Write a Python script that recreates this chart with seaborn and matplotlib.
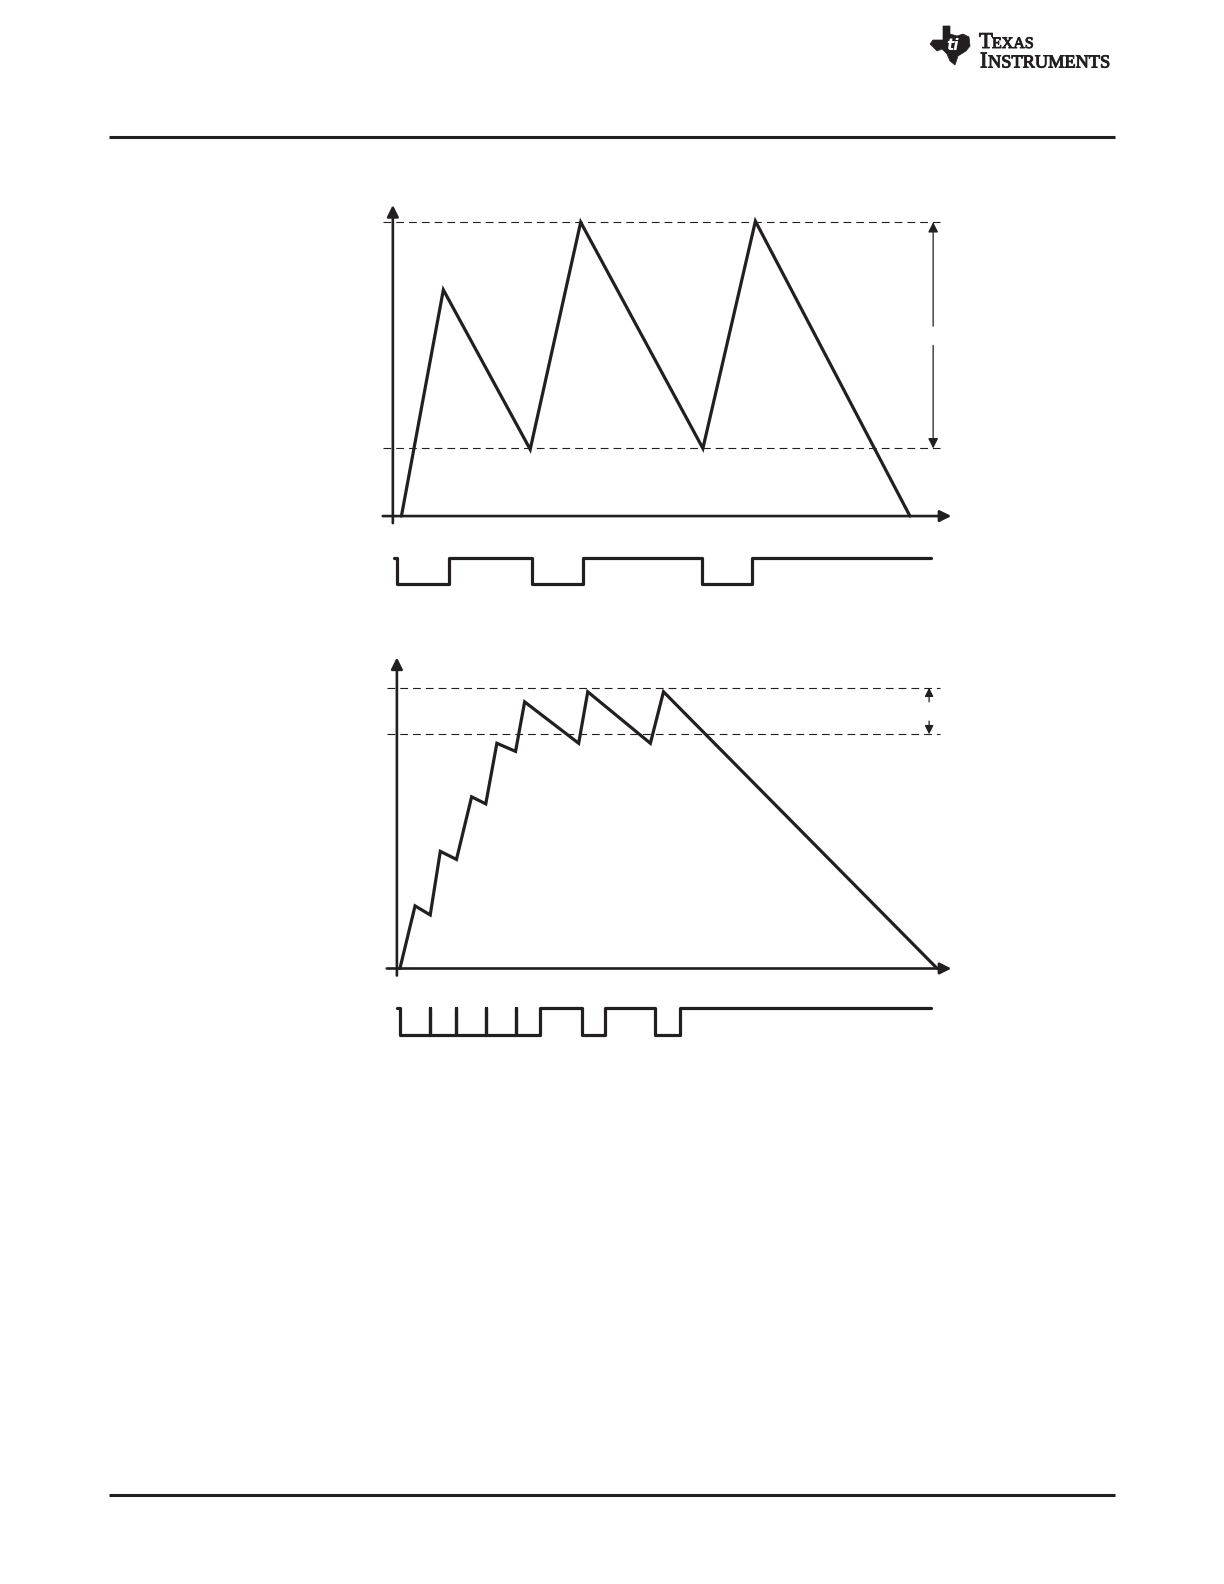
import numpy as np
import pandas as pd
import matplotlib
matplotlib.use("Agg")
import matplotlib.pyplot as plt
import matplotlib.patheffects as pe
from matplotlib.patches import Polygon
import seaborn as sns

# inductor current under hysteretic on/off control, two cases (arbitrary units)
# upper case: wide window between the two thresholds
t_wide = [0.85, 5.0, 13.6, 18.6, 30.7, 35.9, 51.2]
i_wide = [0.0, 22.4, 6.6, 29.1, 6.7, 29.2, 0.0]
hi_wide, lo_wide = 29.1, 6.7
# switch signal for the upper case (time of each change, level after it)
g_wide_t = [0.1, 0.38, 5.6, 13.8, 18.8, 30.6, 35.6, 53.3]
g_wide_v = [1, 0, 1, 0, 1, 0, 1, 1]

# lower case: narrow window
t_narrow = [0.3, 1.8, 3.3, 4.3, 5.9, 7.4, 8.8, 9.9, 11.75, 12.65, 18.0, 18.9, 25.1, 26.4, 53.5]
i_narrow = [0.0, 6.2, 5.3, 11.6, 10.8, 17.0, 16.3, 22.3, 21.5, 26.4, 22.3, 27.4, 22.3, 27.4, 0.0]
hi_narrow, lo_narrow = 27.8, 23.2
g_narrow_t = [0.0, 0.3, 3.3, 3.3, 5.9, 5.9, 8.8, 8.8, 11.75, 11.75, 14.2, 18.3, 20.6, 25.6, 28.0, 52.9]
g_narrow_v = [1, 0, 1, 0, 1, 0, 1, 0, 1, 0, 1, 0, 1, 0, 1, 1]

INK = "#231f20"
W, H = 1224, 1584
S = 1224 / 1212  # layout was measured on the shrunk page

sns.set_style("white")
plt.rcParams["font.family"] = ["Liberation Serif", "DejaVu Serif"]

fig = plt.figure(figsize=(W / 100, H / 100), dpi=100)

# page furniture: rules and logo
page = fig.add_axes([0, 0, 1, 1])
page.set_xlim(0, W)
page.set_ylim(H, 0)
page.set_axis_off()
page.plot([109, 1115], [137, 137], color=INK, lw=2.2, solid_capstyle="butt")
page.plot([109, 1115], [1495, 1495], color=INK, lw=2.2, solid_capstyle="butt")
texas = [(943, 26), (950, 26), (950, 34), (957, 36), (963, 34), (969, 37), (970, 46),
         (966, 51), (958, 56), (955, 65), (950, 61), (947, 54), (942, 49), (937, 51),
         (930, 44), (933, 40), (943, 40)]
page.add_patch(Polygon(texas, closed=True, fc=INK, ec=INK, lw=0.5))
page.text(953, 46, "ti", color="white", fontsize=11, fontweight="bold", style="italic",
          ha="center", va="center", family="DejaVu Sans")
heavy = [pe.withStroke(linewidth=0.7, foreground=INK)]
page.text(979, 48, "T", fontsize=16.3, color=INK, va="baseline", path_effects=heavy)
page.text(992, 48, "EXAS", fontsize=11.5, color=INK, va="baseline", path_effects=heavy)
page.text(980, 67.5, "I", fontsize=16.3, color=INK, va="baseline", path_effects=heavy)
page.text(988, 67.5, "NSTRUMENTS", fontsize=13.2, color=INK, va="baseline", path_effects=heavy)


def panel(ox, oy, xlim, ylim, sx=10.0, sy=10.0):
    # ox, oy: pixel position of the data origin; sx, sy: pixels per data unit
    x0 = ox + xlim[0] * sx
    x1 = ox + xlim[1] * sx
    yb = oy - ylim[0] * sy
    yt = oy - ylim[1] * sy
    ax = fig.add_axes([x0 * S / W, 1 - yb * S / H, (x1 - x0) * S / W, (yb - yt) * S / H])
    ax.patch.set_alpha(0)
    return ax


def arrow(ax, start, end, lw=1.9, scale=17):
    ax.annotate("", xy=end, xytext=start,
                arrowprops=dict(arrowstyle="-|>", color=INK, lw=lw, mutation_scale=scale,
                                shrinkA=0, shrinkB=0))


def current_panel(ox, oy, t, i, hi, lo, x_end, dash_end):
    ax = panel(ox, oy, (-1.6, 55.6), (-1.0, 31.2))
    sns.lineplot(x=t, y=i, ax=ax, color=INK, lw=2.3, sort=False, estimator=None,
                 solid_joinstyle="miter")
    for lvl in (hi, lo):
        ax.plot([-1.0, dash_end], [lvl, lvl], color=INK, lw=0.8, dashes=(7, 4.5))
    arrow(ax, (-1.0, 0), (x_end, 0))
    arrow(ax, (0, -0.7), (0, 30.8))
    ax.set_xlim(-1.6, 55.6)
    ax.set_ylim(-1.0, 31.2)
    ax.set_axis_off()
    return ax


def gate_panel(ox, oy, sy, t, v):
    ax = panel(ox, oy, (-1.6, 55.6), (-0.4, 1.4), sy=sy)
    sns.lineplot(x=t, y=v, ax=ax, color=INK, lw=2.3, sort=False, estimator=None,
                 drawstyle="steps-post")
    ax.set_xlim(-1.6, 55.6)
    ax.set_ylim(-0.4, 1.4)
    ax.set_axis_off()
    return ax


# upper diagram
ax1 = current_panel(389, 511, t_wide, i_wide, hi_wide, lo_wide, 55.3, 54.2)
arrow(ax1, (53.5, 18.8), (53.5, hi_wide), lw=0.9, scale=15)
arrow(ax1, (53.5, 16.9), (53.5, lo_wide), lw=0.9, scale=15)
gate_panel(389, 578.7, 26.1, g_wide_t, g_wide_v)

# lower diagram
ax2 = current_panel(393, 959, t_narrow, i_narrow, hi_narrow, lo_narrow, 54.9, 53.8)
arrow(ax2, (52.7, 26.4), (52.7, hi_narrow), lw=0.9, scale=13)
arrow(ax2, (52.7, 24.5), (52.7, lo_narrow), lw=0.9, scale=13)
gate_panel(393, 1025.3, 27.6, g_narrow_t, g_narrow_v)

fig.savefig("out.png", dpi=100)
